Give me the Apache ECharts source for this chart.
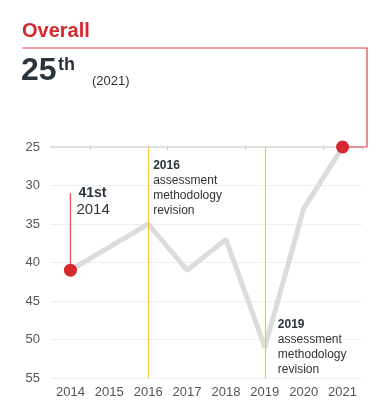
<!DOCTYPE html>
<html>
<head>
<meta charset="utf-8">
<script src="https://cdn.jsdelivr.net/npm/echarts@6/dist/echarts.min.js"></script>
<style>
html,body{margin:0;padding:0;background:#fff;}
#chart{width:387px;height:406px;}
</style>
</head>
<body>
<div id="chart"></div>
<script>
const years = ['2014','2015','2016','2017','2018','2019','2020','2021'];
const ranks = [41, 38, 35, 41, 37, 51, 33, 25];
const highlightYears = ['2014','2021'];
const revisionYears = ['2016','2019'];
const yTicks = [25, 30, 35, 40, 45, 50, 55];
const startAnnotTop = 31;

const FONT = "'Liberation Sans', Arial, sans-serif";
const chart = echarts.init(document.getElementById('chart'), null, {renderer:'canvas'});

const highlightData = highlightYears.map(y => [y, ranks[years.indexOf(y)]]);

const option = {
  animation: false,
  textStyle: {fontFamily: FONT},
  grid: {left: 51, right: 25, top: 147, bottom: 28, containLabel: false},
  xAxis: [{
    type: 'category', data: years, boundaryGap: true, position: 'bottom',
    axisLine: {show: false}, axisTick: {show: false},
    axisLabel: {color: '#555', fontSize: 13, margin: 8, fontFamily: FONT}
  }, {
    type: 'category', data: years, boundaryGap: true, position: 'top',
    axisLine: {show: true, lineStyle: {color: '#d9d9d9', width: 1.5}},
    axisTick: {show: true, length: 3, inside: true, interval: (i) => i % 2 === 1, lineStyle: {color: '#cfcfcf'}},
    axisLabel: {show: false}
  }],
  yAxis: {
    type: 'value', inverse: true, min: 25, max: 55, interval: 5,
    axisLine: {show: false}, axisTick: {show: false},
    axisLabel: {color: '#555', fontSize: 13, margin: 11, fontFamily: FONT,
      formatter: v => yTicks.includes(v) ? String(v) : ''},
    splitLine: {show: true, lineStyle: {color: '#eeeeee', width: 1}}
  },
  series: [{
    type: 'line', data: ranks, symbol: 'none', z: 3,
    lineStyle: {color: '#dcdcdc', width: 5},
    markLine: {
      silent: true, symbol: 'none', label: {show: false}, z: 4,
      lineStyle: {color: '#f3c641', width: 1.2, type: 'solid', opacity: 1},
      emphasis: {disabled: true},
      data: revisionYears.map(y => ({xAxis: y}))
    }
  }, {
    type: 'line', data: [[years[0], ranks[0]], [years[0], startAnnotTop]],
    symbol: 'none', z: 4, lineStyle: {color: '#e0666c', width: 1.5}
  }, {
    type: 'scatter', data: highlightData, symbolSize: 13, z: 6,
    itemStyle: {color: '#d7282f', opacity: 1}
  }]
};
chart.setOption(option);

function px(x, y){ return chart.convertToPixel({xAxisIndex:0, yAxisIndex:0}, [x, y]); }

const endPt = px(years[years.length-1], ranks[ranks.length-1]);
const startPt = px(years[0], startAnnotTop);
const r16 = px(revisionYears[0], 25);
const r19 = px(revisionYears[1], 50);

function txt(x, y, text, font, fill){
  return {type:'text', x: x, y: y, style:{text: text, font: font, fill: fill, verticalAlign: 'middle', align: 'left'}};
}

chart.setOption({
  graphic: [
    {type:'polyline', z: 2, shape:{points:[[22,48],[367,48],[367,endPt[1]],[endPt[0],endPt[1]]]},
      style:{stroke:'#e0474f', lineWidth:1.2, fill:null}},
    txt(22, 31, 'Overall', "bold 20px " + FONT, '#d7282f'),
    txt(21, 71.5, '25', "bold 32px " + FONT, '#2b333d'),
    txt(58, 65.5, 'th', "bold 18px " + FONT, '#2b333d'),
    txt(92, 81, '(2021)', "13px " + FONT, '#333'),
    txt(startPt[0] + 8, 193.5, '41st', "bold 14px " + FONT, '#2b333d'),
    txt(startPt[0] + 6, 210, '2014', "15px " + FONT, '#333'),
    {type:'text', x: r16[0] + 5, y: r16[1] + 11, style:{text:'{b|2016}\nassessment\nmethodology\nrevision', font:"12px " + FONT, fill:'#333', lineHeight: 15,
      rich:{b:{fontWeight:'bold', fontSize:12, fontFamily:FONT, fill:'#2b333d', lineHeight:15}}}},
    {type:'text', x: r19[0] + 13, y: r19[1] - 22, style:{text:'{b|2019}\nassessment\nmethodology\nrevision', font:"12px " + FONT, fill:'#333', lineHeight: 15,
      rich:{b:{fontWeight:'bold', fontSize:12, fontFamily:FONT, fill:'#2b333d', lineHeight:15}}}}
  ]
});
</script>
</body>
</html>
